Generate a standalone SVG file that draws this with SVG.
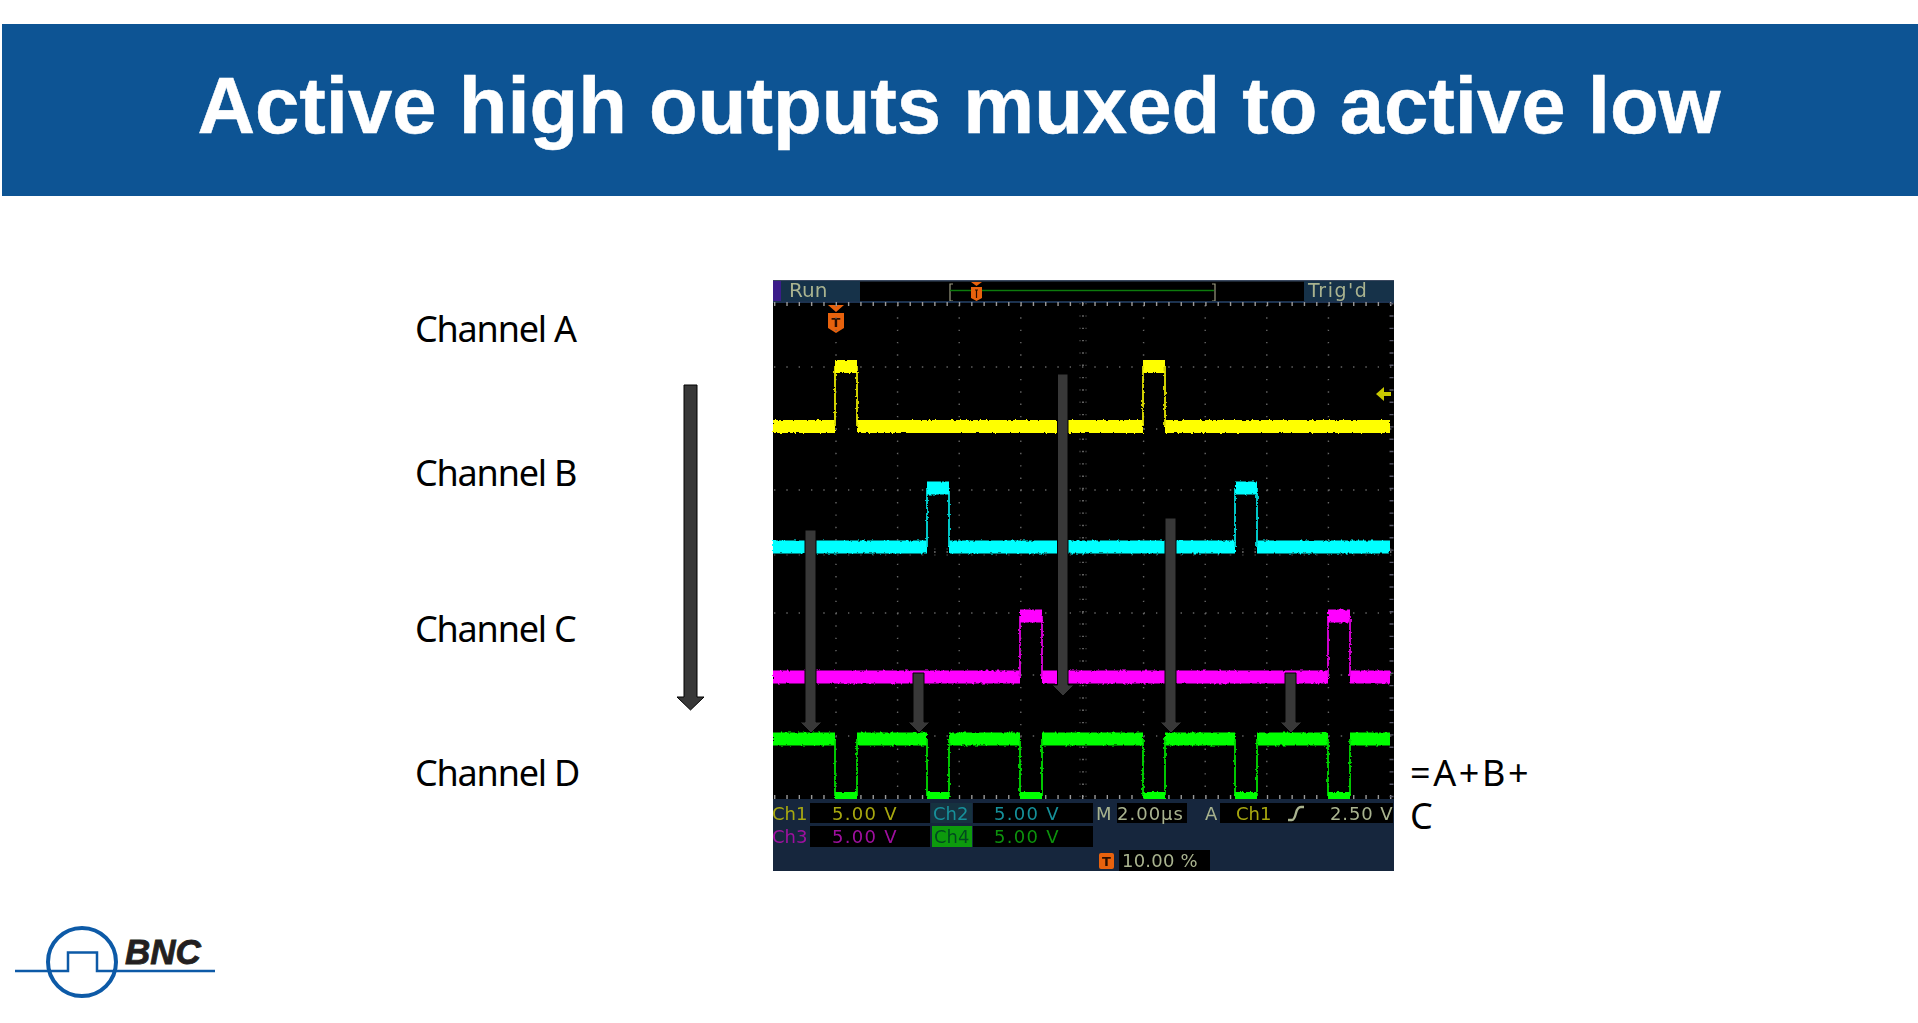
<svg xmlns="http://www.w3.org/2000/svg" width="1918" height="1023" viewBox="0 0 1918 1023">
<style>
.lab{font-family:"Noto Sans","Open Sans",sans-serif;font-size:36px;fill:#000;letter-spacing:-1.2px}
.sc{font-family:"DejaVu Sans",sans-serif;font-size:18px}
.arrow{fill:#383838;stroke:#000;stroke-width:1}
.tr{fill:none;stroke-linejoin:miter}
.dot{fill:none;stroke:#666;stroke-width:1.4;stroke-dasharray:1.4 10.92}
</style>
<defs>
<filter id="noise" x="-2%" y="-10%" width="104%" height="120%">
<feTurbulence type="fractalNoise" baseFrequency="0.35" numOctaves="2" seed="4"/>
<feDisplacementMap in="SourceGraphic" scale="3"/>
</filter>
<filter id="soft" x="-1%" y="-1%" width="102%" height="102%">
<feGaussianBlur stdDeviation="0.45"/>
</filter>
</defs>
<rect width="1918" height="1023" fill="#fff"/>
<g id="header">
<rect x="2" y="24" width="1916" height="172" fill="#0d5494"/>
<text x="959" y="133" text-anchor="middle" font-family="Liberation Sans,Arial,sans-serif" font-weight="700" font-size="79.700" fill="#fff" stroke="#fff" stroke-width="0.5">Active high outputs muxed to active low</text>
</g>
<g id="scope" filter="url(#soft)">
<rect x="773" y="280" width="621" height="591" fill="#000"/>
<rect x="773" y="280" width="621" height="1.500" fill="#3a4a60"/>
<rect x="773" y="281" width="87" height="21" fill="#15304a"/>
<rect x="773" y="281" width="8" height="21" fill="#3a1a8a"/>
<rect x="1304" y="281" width="90" height="21" fill="#15304a"/>
<text class="sc" x="789" y="297" fill="#a9b38f" style="font-size:20px">Run</text>
<text class="sc" x="1308" y="297" fill="#a9b38f" letter-spacing="1.5" style="font-size:19px">Trig'd</text>
<path d="M953 284h-3v17h3M1212 284h3v17h-3" fill="none" stroke="#9a9a80" stroke-width="1.2"/>
<path d="M950 290.500H1214" stroke="#0f7a10" stroke-width="1.5"/>
<rect x="773" y="301" width="621" height="2" fill="#1c3250"/>
<path d="M971 282h11l-5.500 4zM971 287h11v11l-5.500 3-5.500-3z" fill="#e8620f"/>
<path d="M975 290h3M976.500 290v8" fill="none" stroke="#2a1000" stroke-width="1.200"/>
<path d="M828 305h16l-8 7zM828 313h16v15l-8 5-8-5z" fill="#e8620f"/>
<text x="836" y="327" text-anchor="middle" font-family="DejaVu Sans,sans-serif" font-weight="700" font-size="13" fill="#2a1000">T</text>
<path class="dot" d="M836 305V796M897.600 305V796M959.200 305V796M1020.800 305V796M1143.600 305V796M1205.200 305V796M1266.800 305V796M1328.400 305V796"/>
<path class="dot" d="M774 367H1392M774 429H1392M774 490H1392M774 613H1392M774 675H1392M774 736H1392"/>
<path d="M1083 303V797M774 552H1392" stroke="#888" stroke-width="1.4" stroke-dasharray="1.400 10.920" fill="none"/>
<path d="M1080 303V797M1086 303V797M774 549H1392M774 555H1392" stroke="#555" stroke-width="1" stroke-dasharray="1.400 10.920" fill="none"/>
<path d="M774 304H1392M774 797H1392" stroke="#999" stroke-width="4" stroke-dasharray="1.400 10.920" fill="none"/>
<path d="M1391.500 303V799" stroke="#556" stroke-width="4" stroke-dasharray="1.400 10.920" fill="none"/>
<g class="tr" filter="url(#noise)">
<path d="M773 426.500H835M857 426.500H1143M1165 426.500H1390" stroke="#ffff00" stroke-width="13" fill="none"/>
<path d="M835 426V366M857 426V366" stroke="#e6e600" stroke-width="1.800" fill="none"/>
<path d="M835 366.500H857M1143 366.500H1165" stroke="#ffff00" stroke-width="13" fill="none"/>
<path d="M1143 426V366M1165 426V366" stroke="#e6e600" stroke-width="1.800" fill="none"/>
<path d="M773 547H927M949 547H1235M1257 547H1390" stroke="#00ffff" stroke-width="13" fill="none"/>
<path d="M927 547V488M949 547V488M1235 547V488M1257 547V488" stroke="#00dcdc" stroke-width="1.800" fill="none"/>
<path d="M927 488H949M1235 488H1257" stroke="#00ffff" stroke-width="13" fill="none"/>
<path d="M773 677H1020M1042 677H1328M1350 677H1390" stroke="#ff00ff" stroke-width="13" fill="none"/>
<path d="M1020 677V616M1042 677V616M1328 677V616M1350 677V616" stroke="#e000e0" stroke-width="1.800" fill="none"/>
<path d="M1020 616H1042M1328 616H1350" stroke="#ff00ff" stroke-width="13" fill="none"/>
<path d="M773 739H835M857 739H927M949 739H1020M1042 739H1143M1165 739H1235M1257 739H1328M1350 739H1390" stroke="#00ff00" stroke-width="13" fill="none"/>
<path d="M835 739V796M857 739V796M927 739V796M949 739V796M1020 739V796M1042 739V796M1143 739V796M1165 739V796M1235 739V796M1257 739V796M1328 739V796M1350 739V796" stroke="#00dc00" stroke-width="1.800" fill="none"/>
<path d="M835 796H857M927 796H949M1020 796H1042M1143 796H1165M1235 796H1257M1328 796H1350" stroke="#00ff00" stroke-width="8" fill="none"/>
</g>
<path d="M1376 394l8-7v5h7v4h-7v5z" fill="#c8c800"/>
<rect x="773" y="799" width="621" height="72" fill="#15283c"/>
<rect x="810" y="803" width="120" height="20" fill="#000"/>
<rect x="973" y="803" width="120" height="20" fill="#000"/>
<rect x="810" y="826" width="120" height="21" fill="#000"/>
<rect x="973" y="826" width="120" height="21" fill="#000"/>
<rect x="931" y="803" width="41" height="20" fill="#15303f"/>
<rect x="932" y="826" width="40" height="21" fill="#0a9a0a"/>
<rect x="1117" y="803" width="70" height="20" fill="#000"/>
<rect x="1220" y="803" width="173" height="20" fill="#000"/>
<rect x="1119" y="850" width="91" height="21" fill="#000"/>
<rect x="1099" y="853" width="15" height="16" rx="2" fill="#e8620f"/>
<text x="1106.500" y="866" text-anchor="middle" font-family="DejaVu Sans,sans-serif" font-weight="700" font-size="13" fill="#2a1000">T</text>
<g class="sc">
<text x="772" y="820" fill="#a8a810">Ch1</text>
<text x="832" y="820" fill="#a8a810" letter-spacing="1.300">5.00 V</text>
<text x="933" y="820" fill="#14909a">Ch2</text>
<text x="994" y="820" fill="#14909a" letter-spacing="1.300">5.00 V</text>
<text x="772" y="843" fill="#a010a0">Ch3</text>
<text x="832" y="843" fill="#a010a0" letter-spacing="1.300">5.00 V</text>
<text x="934" y="843" fill="#064a20">Ch4</text>
<text x="994" y="843" fill="#0a900a" letter-spacing="1.300">5.00 V</text>
<text x="1096" y="820" fill="#a9b38f">M</text>
<text x="1117" y="820" fill="#a9b38f" letter-spacing="1">2.00µs</text>
<text x="1205" y="820" fill="#a9b38f">A</text>
<text x="1236" y="820" fill="#a8a810">Ch1</text>
<path d="M1288 820h4c2 0 3-3 4-7s2-6 5-6h3" fill="none" stroke="#a9b38f" stroke-width="2.400"/>
<text x="1330" y="820" fill="#a9b38f" letter-spacing="0.900">2.50 V</text>
<text x="1122" y="867" fill="#a9b38f" letter-spacing="0.200">10.00 %</text>
</g>
</g>
<g id="connectors">
<path class="arrow" d="M684 385h13v312h7l-13.500 13-13.500-13h7z"/>
<path class="arrow" d="M1057.500 374h10.500v311h6l-11 11-11-11h5.500z"/>
<path class="arrow" d="M805 530h11v192h6l-11 11-11-11h5z"/>
<path class="arrow" d="M913 673h11v49h6l-11 11-11-11h5z"/>
<path class="arrow" d="M1165 518h11v204h6l-11 11-11-11h5z"/>
<path class="arrow" d="M1285 673h11v49h6l-11 11-11-11h5z"/>
</g>
<g id="labels">
<text class="lab" x="415" y="342">Channel A</text>
<text class="lab" x="415" y="486">Channel B</text>
<text class="lab" x="415" y="642">Channel C</text>
<text class="lab" x="415" y="786">Channel D</text>
<text class="lab" style="letter-spacing:2.600px"><tspan x="1410" y="786">=A+B+</tspan><tspan x="1410" y="829">C</tspan></text>
</g>
<g id="logo">
<circle cx="82" cy="962" r="34" fill="none" stroke="#0d5aa7" stroke-width="4"/>
<path d="M15 971H68V952.500H97V971H215" fill="none" stroke="#0d5aa7" stroke-width="2.500"/>
<text x="125" y="964" font-family="Liberation Sans,Arial,sans-serif" font-weight="700" font-style="italic" font-size="35" fill="#231f20" stroke="#231f20" stroke-width="0.800">BNC</text>
</g>
</svg>
